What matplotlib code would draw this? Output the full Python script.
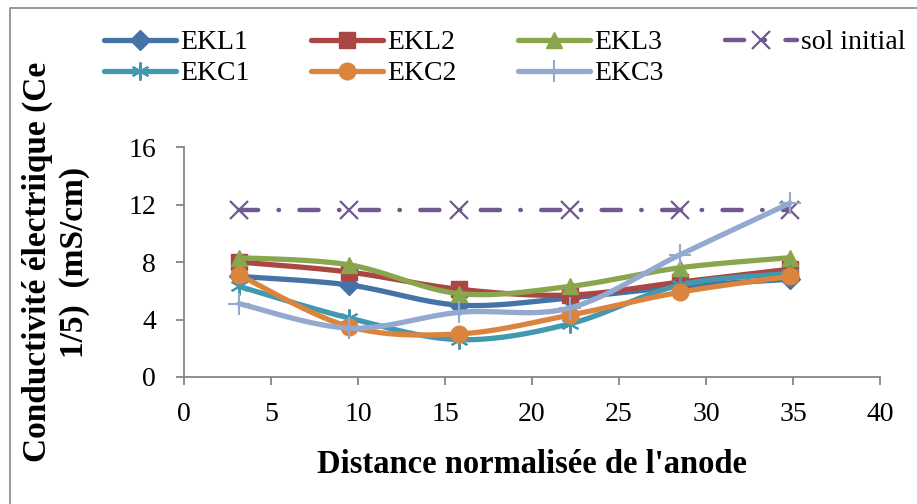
import numpy as np
import matplotlib
matplotlib.use("Agg")
import matplotlib.pyplot as plt
from matplotlib.lines import Line2D

plt.rcParams["font.family"] = ["Liberation Serif", "DejaVu Serif"]

# Data
distance = [3.17, 9.5, 15.83, 22.17, 28.5, 34.83]
ekl1 = [7.0, 6.4, 5.0, 5.5, 6.3, 6.8]
ekl2 = [8.0, 7.3, 6.1, 5.7, 6.6, 7.5]
ekl3 = [8.3, 7.8, 5.8, 6.3, 7.6, 8.3]
sol_initial = [11.6, 11.6, 11.6, 11.6, 11.6, 11.6]
ekc1 = [6.3, 4.1, 2.6, 3.7, 6.4, 7.2]
ekc2 = [7.1, 3.5, 3.0, 4.3, 5.9, 7.0]
ekc3 = [5.1, 3.4, 4.5, 4.8, 8.5, 12.1]

x_ticks = [0, 5, 10, 15, 20, 25, 30, 35, 40]
y_ticks = [0, 4, 8, 12, 16]

W, H = 917, 504
FS = 20
LABEL_FS = 23.5


def smooth(x, y, k=30):
    """Cubic Bezier smoothing through every point (Catmull-Rom style)."""
    x = np.asarray(x, float)
    y = np.asarray(y, float)
    p = np.column_stack([x, y])
    pts = np.vstack([p[0], p, p[-1]])
    out = []
    t = np.linspace(0, 1, k, endpoint=False)[:, None]
    for i in range(1, len(pts) - 2):
        p0, p1, p2, p3 = pts[i - 1], pts[i], pts[i + 1], pts[i + 2]
        c1 = p1 + (p2 - p0) / 6.0
        c2 = p2 - (p3 - p1) / 6.0
        seg = ((1 - t) ** 3) * p1 + 3 * ((1 - t) ** 2) * t * c1 \
            + 3 * (1 - t) * t ** 2 * c2 + t ** 3 * p2
        out.append(seg)
    out.append(p[-1][None, :])
    out = np.vstack(out)
    marks = [i * k for i in range(len(x))]
    return out[:, 0], out[:, 1], marks


fig = plt.figure(figsize=(W / 100, H / 100), dpi=100)
ax = fig.add_axes([184 / W, 1 - 377 / H, (880 - 184) / W, (377 - 147) / H])

series = [
    ("EKL1", ekl1, "#4572A7", dict(marker="D", markersize=10)),
    ("EKL2", ekl2, "#AA4643", dict(marker="s", markersize=11)),
    ("EKL3", ekl3, "#89A54E", dict(marker="^", markersize=12)),
    ("EKC1", ekc1, "#4198AF", dict(marker=(6, 2, 0), markersize=13, markeredgewidth=1.5)),
    ("EKC2", ekc2, "#DB843D", dict(marker="o", markersize=12)),
    ("EKC3", ekc3, "#93A9CF", dict(marker="+", markersize=16, markeredgewidth=1.5)),
]

handles = {}
for name, vals, col, mk in series:
    xs, ys, marks = smooth(distance, vals)
    ln, = ax.plot(xs, ys, color=col, lw=3.8, markevery=marks,
                  markerfacecolor=col, markeredgecolor=col,
                  solid_capstyle="round", solid_joinstyle="round",
                  label=name, clip_on=False, **mk)
    handles[name] = ln

sol, = ax.plot(distance, sol_initial, color="#71588F", lw=3.2,
               marker="x", markersize=13, markeredgewidth=1.6,
               dash_capstyle="round", label="sol initial", clip_on=False)
sol.set_dashes([4.3, 4.6, 0.1, 4.6])
sol.set_zorder(1.9)
handles["sol initial"] = sol

ax.set_xlim(0, 40)
ax.set_ylim(0, 16)
ax.set_xticks(x_ticks)
ax.set_yticks(y_ticks)
for s in ("top", "right"):
    ax.spines[s].set_visible(False)
for s in ("left", "bottom"):
    ax.spines[s].set_color("#868686")
    ax.spines[s].set_linewidth(1.3)
ax.tick_params(axis="both", direction="out", length=6, width=1.3,
               color="#868686", labelsize=FS)
ax.tick_params(axis="y", pad=14)
ax.tick_params(axis="x", pad=12)

ax.set_xlabel("Distance normalisée de l'anode", fontsize=LABEL_FS,
              fontweight="bold", labelpad=16)
fig.text(56 / W, 1 - 262 / H, "Conductivité électriique (Ce\n1/5)  (mS/cm)",
         rotation=90, ha="center", va="center", fontsize=24,
         fontweight="bold", multialignment="center", linespacing=1.25)

order = ["EKL1", "EKC1", "EKL2", "EKC2", "EKL3", "EKC3", "sol initial"]
fig.legend([handles[n] for n in order], order, loc="upper left",
           bbox_to_anchor=(104 / W, 1 - 30 / H), ncol=4, frameon=False,
           fontsize=FS, handlelength=2.6, handletextpad=0.15,
           columnspacing=2.2, labelspacing=0.2, borderpad=0,
           borderaxespad=0)

# chart-area border
fig.add_artist(Line2D([10 / W, 10 / W, 1.0], [0.0, 1 - 8 / H, 1 - 8 / H],
                      transform=fig.transFigure, color="#888888", lw=1.2))

fig.savefig("out.png", dpi=100)
